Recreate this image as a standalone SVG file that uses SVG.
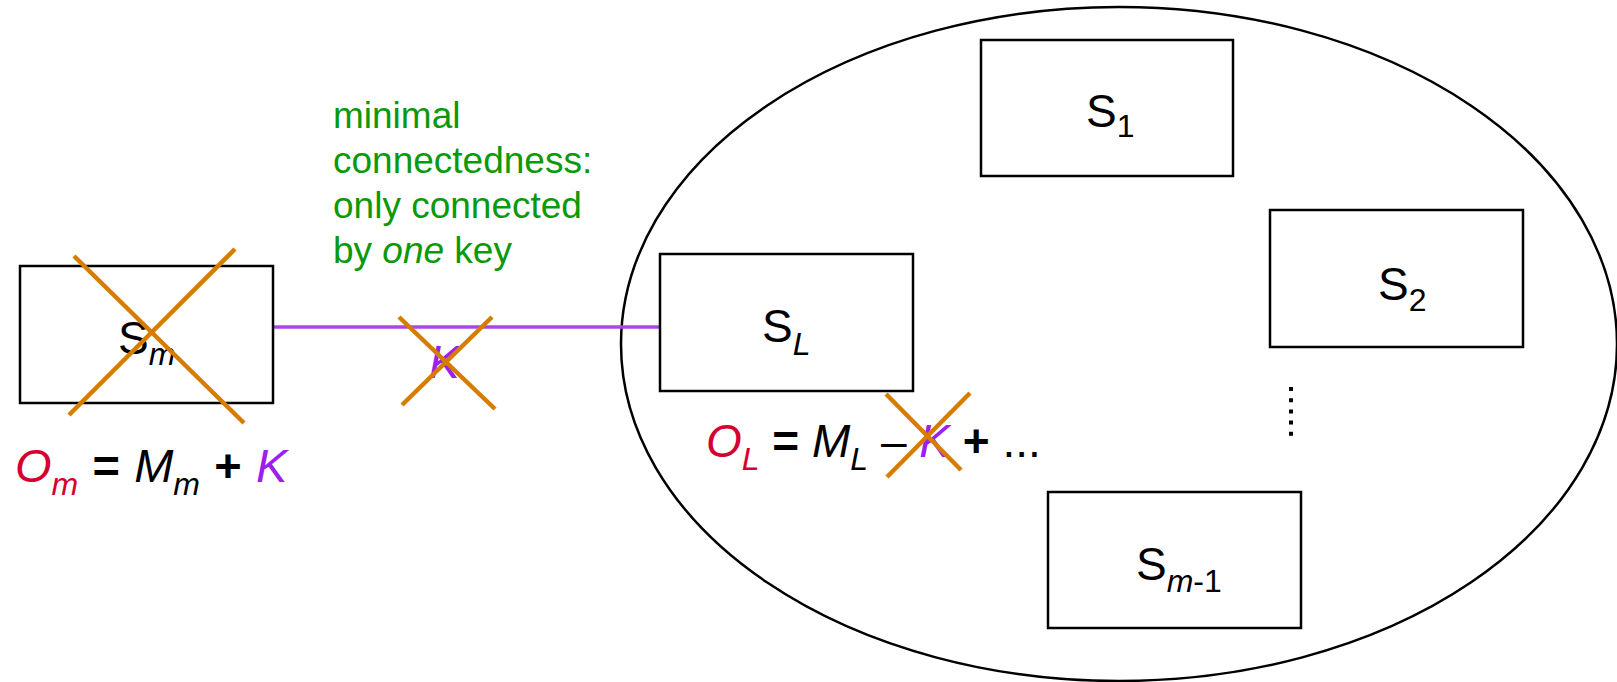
<svg xmlns="http://www.w3.org/2000/svg" width="1617" height="682" viewBox="0 0 1617 682">
<style>
text{font-family:"Liberation Sans",Arial,sans-serif;fill:#000}
.lbl{font-size:46px}
.eq{font-size:47px}
.sub{font-size:32px}
.it{font-style:italic}
.b{font-weight:bold}
.box{fill:#fff;stroke:#000;stroke-width:2.5}
.x{stroke:#d67d00;stroke-width:4.5;fill:none}
.red{fill:#d5002f}
.pur{fill:#9b20ee}
.note{font-size:37px;fill:#0a990a}
</style>
<g id="cluster">
<ellipse cx="1119" cy="344" rx="498" ry="337" fill="none" stroke="#000" stroke-width="2.5"/>
</g>
<g id="connectors">
<line x1="273" y1="327" x2="660" y2="327" stroke="#a847e8" stroke-width="3.5"/>
</g>
<g id="node-Sm">
<rect class="box" x="20" y="266" width="253" height="137"/>
<text class="lbl" x="118" y="354">S<tspan class="sub it" dy="11">m</tspan></text>
<line class="x" x1="74" y1="256" x2="244" y2="423"/>
<line class="x" x1="235" y1="249" x2="69" y2="415"/>
<text class="eq" x="15" y="482" word-spacing="1.2"><tspan class="red it">O</tspan><tspan class="red it sub" dy="13">m</tspan><tspan dy="-13" class="b"> = </tspan><tspan class="it">M</tspan><tspan class="it sub" dy="13">m</tspan><tspan dy="-13" class="b"> + </tspan><tspan class="pur it">K</tspan></text>
</g>
<g id="note">
<text class="note" x="333" y="128">minimal</text>
<text class="note" x="333" y="173">connectedness:</text>
<text class="note" x="333" y="218">only connected</text>
<text class="note" x="333" y="263">by <tspan class="it">one</tspan> key</text>
</g>
<g id="key-K">
<text class="lbl it pur" x="429" y="378">K</text>
<line class="x" x1="399" y1="317" x2="495" y2="409"/>
<line class="x" x1="492" y1="317" x2="402" y2="405"/>
</g>
<g id="node-SL">
<rect class="box" x="660" y="254" width="253" height="137"/>
<text class="lbl" x="762" y="342">S<tspan class="sub it" dy="13">L</tspan></text>
<text class="lbl" x="706" y="457"><tspan class="red it">O</tspan><tspan class="red it sub" dy="13">L</tspan><tspan dy="-13" class="b"> = </tspan><tspan class="it">M</tspan><tspan class="it sub" dy="13">L</tspan><tspan dy="-13"> – </tspan><tspan class="pur it">K</tspan><tspan class="b"> + </tspan><tspan>...</tspan></text>
<line class="x" x1="886" y1="394" x2="961" y2="470"/>
<line class="x" x1="970" y1="393" x2="887" y2="477"/>
</g>
<g id="node-S1">
<rect class="box" x="981" y="40" width="252" height="136"/>
<text class="lbl" x="1086" y="127">S<tspan class="sub" dy="10">1</tspan></text>
</g>
<g id="node-S2">
<rect class="box" x="1270" y="210" width="253" height="137"/>
<text class="lbl" x="1378" y="300">S<tspan class="sub" dy="11">2</tspan></text>
</g>
<g id="ellipsis">
<line x1="1291" y1="387" x2="1291" y2="437" stroke="#000" stroke-width="4" stroke-dasharray="4 7.2"/>
</g>
<g id="node-Sm-1">
<rect class="box" x="1048" y="492" width="253" height="136"/>
<text class="lbl" x="1136" y="580">S<tspan class="sub it" dy="12">m</tspan><tspan class="sub">-1</tspan></text>
</g>
</svg>
